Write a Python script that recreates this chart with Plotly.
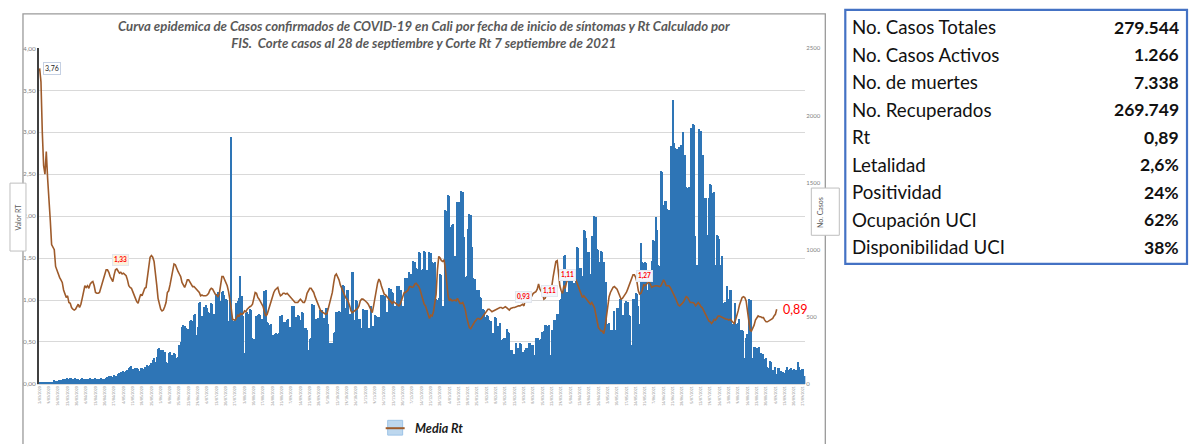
import plotly.graph_objects as go
import pandas as pd

W, H = 1195, 444

# ---- data -----------------------------------------------------------------
inicio = "2020-03-02"   # first day with symptom onset (FIS)

# daily confirmed cases by symptom-onset date (Cali)
casos = [
    5, 4, 6, 8, 7, 9, 10, 9, 11, 12,
    14, 25, 18, 22, 20, 25, 24, 28, 35, 38,
    33, 40, 36, 39, 42, 37, 35, 40, 33, 36,
    30, 38, 41, 35, 32, 28, 34, 38, 40, 36,
    33, 37, 41, 35, 30, 34, 39, 36, 33, 38,
    42, 48, 55, 60, 58, 52, 62, 57, 54, 72,
    80, 90, 78, 95, 85, 92, 105, 118, 125, 130,
    112, 100, 120, 115, 110, 95, 118, 120, 108, 122,
    98, 140, 130, 140, 150, 175, 190, 160, 195, 255,
    262, 250, 240, 248, 236, 160, 150, 225, 232, 215,
    210, 228, 220, 190, 200, 290, 310, 420, 435, 428,
    415, 410, 405, 465, 475, 470, 510, 515, 360, 420,
    600, 610, 505, 495, 570, 585, 560, 530, 525, 600,
    590, 520, 510, 670, 680, 665, 615, 680, 690, 660,
    630, 625, 470, 650, 1840, 480, 470, 475, 600, 612,
    640, 800, 655, 505, 230, 525, 535, 520, 555, 550,
    340, 335, 300, 505, 510, 515, 512, 485, 300, 690,
    695, 460, 450, 440, 445, 360, 365, 370, 375, 372,
    380, 505, 510, 340, 460, 462, 474, 478, 425, 420,
    575, 580, 495, 498, 508, 505, 474, 530, 528, 411,
    415, 400, 250, 335, 340, 590, 588, 484, 480, 486,
    470, 547, 545, 490, 488, 562, 560, 445, 300, 302,
    305, 380, 385, 535, 530, 540, 536, 728, 733, 730,
    562, 699, 700, 518, 520, 833, 830, 474, 620, 618,
    484, 480, 411, 555, 550, 548, 552, 411, 415, 577,
    425, 428, 508, 505, 500, 498, 264, 662, 660, 655,
    650, 530, 532, 709, 705, 679, 675, 577, 580, 728,
    725, 699, 695, 577, 575, 789, 785, 450, 835, 820,
    810, 911, 905, 860, 855, 977, 975, 850, 855, 985,
    980, 850, 848, 977, 970, 904, 900, 906, 630, 625,
    635, 814, 810, 577, 575, 1290, 1285, 1407, 1400, 1168,
    1185, 1192, 953, 577, 1350, 1355, 1345, 1432, 1430, 1094,
    796, 800, 1149, 1261, 1255, 1020, 786, 780, 655, 699,
    695, 643, 640, 553, 550, 496, 508, 505, 471, 470,
    371, 375, 496, 490, 430, 428, 455, 327, 335, 340,
    338, 406, 381, 380, 252, 250, 215, 218, 300, 269,
    265, 300, 298, 235, 238, 252, 264, 266, 300, 302,
    288, 285, 215, 340, 342, 338, 327, 330, 386, 390,
    435, 438, 432, 436, 215, 399, 400, 477, 475, 520,
    522, 625, 628, 679, 953, 960, 679, 680, 826, 855,
    850, 752, 750, 855, 1016, 1010, 860, 858, 801, 1143,
    1140, 1082, 977, 980, 814, 1100, 1095, 1246, 1240, 1000,
    995, 904, 985, 980, 904, 760, 755, 445, 450, 399,
    400, 250, 540, 400, 562, 560, 630, 628, 508, 510,
    600, 614, 610, 508, 505, 288, 630, 628, 672, 670,
    577, 445, 1046, 904, 900, 906, 902, 699, 816, 812,
    914, 1070, 1065, 1241, 1143, 880, 875, 1583, 1580, 1327,
    1363, 1360, 1300, 1290, 953, 1767, 2109, 1790, 1755, 1750,
    1070, 1760, 1779, 1770, 1871, 1700, 1461, 1455, 1465, 1460,
    1901, 1937, 1930, 1100, 880, 885, 1894, 1880, 1706, 1700,
    1381, 1380, 1107, 1381, 1486, 1480, 1420, 1425, 880, 1107,
    1100, 1080, 880, 953, 600, 610, 590, 728, 630, 699,
    695, 445, 440, 600, 445, 450, 484, 399, 400, 395,
    191, 340, 371, 630, 625, 620, 191, 276, 270, 265,
    178, 276, 230, 147, 220, 185, 190, 125, 118, 165,
    160, 103, 95, 125, 68, 117, 115, 95, 80, 85,
    82, 100, 125, 100, 110, 120, 100, 110, 98, 105,
    161, 125, 102, 108, 110, 60,
]

# mean Rt by symptom-onset date (cut-off 7 Sep 2021)
rt = [
    3.76, 3.60, 3.00, 2.60, 2.50, 2.77, 2.45, 2.25, 1.95, 1.66,
    1.62, 1.60, 1.40, 1.35, 1.30, 1.27, 1.24, 1.21, 1.12, 1.06,
    1.03, 1.05, 0.97, 0.96, 0.91, 0.89, 0.88, 0.89, 0.92, 0.95,
    0.91, 0.95, 1.02, 1.12, 1.17, 1.15, 1.17, 1.14, 1.19, 1.21,
    1.22, 1.17, 1.09, 1.08, 1.08, 1.09, 1.15, 1.20, 1.26, 1.32,
    1.36, 1.36, 1.33, 1.28, 1.25, 1.22, 1.30, 1.36, 1.37, 1.35,
    1.32, 1.33, 1.31, 1.32, 1.30, 1.29, 1.24, 1.17, 1.15, 1.14,
    1.10, 1.05, 1.02, 0.98, 0.96, 1.02, 1.07, 1.05, 1.10, 1.14,
    1.15, 1.28, 1.42, 1.51, 1.53, 1.51, 1.46, 1.35, 1.18, 1.02,
    0.93, 0.89, 0.87, 0.88, 0.92, 0.97, 1.09, 1.11, 1.18, 1.26,
    1.37, 1.43, 1.42, 1.37, 1.34, 1.31, 1.28, 1.21, 1.17, 1.15,
    1.19, 1.24, 1.24, 1.21, 1.18, 1.16, 1.16, 1.14, 1.12, 1.11,
    1.09, 1.05, 1.06, 1.05, 1.05, 1.05, 1.06, 1.08, 1.12, 1.14,
    1.13, 1.09, 1.07, 1.06, 1.04, 1.07, 1.20, 1.28, 1.28, 1.24,
    1.20, 1.17, 1.10, 1.02, 0.90, 0.77, 0.76, 0.76, 0.79, 0.82,
    0.81, 0.84, 0.83, 0.84, 0.87, 0.86, 0.89, 0.91, 0.92, 0.93,
    0.95, 1.02, 1.09, 1.08, 1.03, 1.01, 0.98, 0.96, 0.92, 0.86,
    0.81, 0.83, 0.88, 0.93, 0.98, 1.05, 1.09, 1.12, 1.14, 1.15,
    1.09, 1.05, 1.06, 1.08, 1.08, 1.07, 1.08, 1.06, 1.04, 1.03,
    1.01, 0.98, 0.97, 0.97, 0.97, 0.99, 1.01, 0.99, 0.97, 0.97,
    1.01, 1.08, 1.12, 1.14, 1.14, 1.12, 1.09, 1.04, 1.00, 0.97,
    0.91, 0.88, 0.86, 0.85, 0.84, 0.83, 0.84, 0.90, 0.95, 1.02,
    1.09, 1.20, 1.29, 1.31, 1.28, 1.24, 1.18, 1.14, 1.11, 1.06,
    1.03, 1.01, 0.98, 0.93, 0.87, 0.85, 0.86, 0.87, 0.88, 0.90,
    0.93, 0.99, 1.01, 1.01, 1.00, 0.99, 0.97, 0.95, 0.91, 0.89,
    0.85, 0.93, 1.04, 1.13, 1.20, 1.25, 1.22, 1.16, 1.12, 1.07,
    1.06, 1.04, 1.02, 1.00, 0.97, 0.96, 0.98, 0.97, 0.96, 0.94,
    0.93, 0.95, 0.99, 1.04, 1.09, 1.09, 1.10, 1.12, 1.16, 1.16,
    1.15, 1.16, 1.19, 1.20, 1.18, 1.16, 1.12, 1.05, 0.99, 0.95,
    0.93, 0.88, 0.81, 0.78, 0.82, 0.81, 0.86, 0.95, 1.07, 1.36,
    1.52, 1.50, 1.47, 1.46, 1.48, 1.36, 1.17, 1.05, 0.99, 1.01,
    0.99, 1.00, 1.00, 0.99, 1.02, 0.99, 0.96, 0.96, 0.97, 0.93,
    0.88, 0.79, 0.74, 0.67, 0.66, 0.69, 0.72, 0.74, 0.76, 0.78,
    0.78, 0.77, 0.78, 0.80, 0.83, 0.85, 0.87, 0.89, 0.89, 0.87,
    0.86, 0.87, 0.88, 0.89, 0.89, 0.90, 0.91, 0.91, 0.90, 0.91,
    0.92, 0.91, 0.90, 0.88, 0.90, 0.91, 0.91, 0.91, 0.92, 0.93,
    0.93, 0.93, 0.94, 0.95, 0.93, 1.00, 1.02, 1.02, 1.04, 1.07,
    1.05, 1.08, 1.09, 1.10, 1.13, 1.19, 1.13, 1.11, 1.08, 1.01,
    1.02, 1.07, 1.09, 1.11, 1.16, 1.17, 1.28, 1.38, 1.46, 1.47,
    1.28, 1.17, 1.11, 1.08, 1.17, 1.14, 1.21, 1.25, 1.28, 1.32,
    1.35, 1.30, 1.25, 1.24, 1.20, 1.16, 1.11, 1.06, 1.03, 1.05,
    1.03, 1.02, 1.00, 0.98, 0.95, 0.97, 0.94, 0.91, 0.83, 0.74,
    0.67, 0.65, 0.63, 0.63, 0.60, 0.68, 0.81, 0.95, 1.04, 1.09,
    1.13, 1.15, 1.16, 1.15, 1.13, 1.09, 1.04, 1.01, 1.02, 1.04,
    1.06, 1.09, 1.13, 1.17, 1.22, 1.27, 1.30, 1.30, 1.27, 1.21,
    1.11, 1.07, 1.08, 1.12, 1.18, 1.17, 1.19, 1.21, 1.22, 1.19,
    1.15, 1.16, 1.17, 1.17, 1.17, 1.16, 1.16, 1.17, 1.21, 1.24,
    1.21, 1.17, 1.17, 1.17, 1.15, 1.12, 1.08, 1.05, 1.02, 0.98,
    0.94, 0.93, 0.94, 0.96, 0.98, 1.02, 1.04, 1.03, 0.99, 0.97,
    0.97, 0.97, 0.96, 0.93, 0.95, 0.97, 0.95, 0.92, 0.91, 0.88,
    0.85, 0.82, 0.79, 0.75, 0.74, 0.72, 0.74, 0.77, 0.76, 0.78,
    0.81, 0.81, 0.80, 0.79, 0.79, 0.77, 0.77, 0.77, 0.76, 0.77,
    0.75, 0.74, 0.72, 0.76, 0.81, 0.87, 0.94, 1.00, 1.03, 1.04,
    1.03, 0.99, 0.87, 0.76, 0.64, 0.63, 0.66, 0.70, 0.76, 0.79,
    0.81, 0.80, 0.80, 0.79, 0.79, 0.76, 0.74, 0.74, 0.75, 0.76,
    0.76, 0.78, 0.81, 0.83, 0.89,
]

# days whose Rt value is written on the curve
dias_etiqueta = [0, 61, 364, 383, 392, 448, 554]

# summary table
indicadores = ["No. Casos Totales", "No. Casos Activos", "No. de muertes",
               "No. Recuperados", "Rt", "Letalidad", "Positividad",
               "Ocupación UCI", "Disponibilidad UCI"]
valores = ["279.544", "1.266", "7.338", "269.749", "0,89", "2,6%", "24%",
           "62%", "38%"]

titulo = ("Curva epidemica de Casos confirmados de COVID-19 en Cali por fecha de "
          "inicio de síntomas y Rt Calculado por<br>FIS.  Corte casos al 28 de "
          "septiembre y Corte Rt 7 septiembre de 2021")

# ---- helpers (pixel -> paper coordinates) ----------------------------------
def px(x):
    return x / W


def py(y):
    return 1 - y / H


fechas = pd.date_range(inicio, periods=len(casos), freq="D")
fechas_rt = fechas[:len(rt)]

FONT = "Lato, 'Open Sans', sans-serif"
GRIS = "#7f7f7f"
AZUL = "#2E75B6"
CAFE = "#9E5B2B"

fig = go.Figure()

fig.add_trace(go.Bar(
    x=fechas, y=casos, yaxis="y", name="No. Casos",
    marker=dict(color=AZUL, line=dict(width=0)), showlegend=False,
))
fig.add_trace(go.Scatter(
    x=fechas_rt, y=rt, yaxis="y2", name="Media Rt", mode="lines",
    line=dict(color=CAFE, width=1.6), showlegend=False,
))

x0_plot, x1_plot = 38, 805
y_top, y_bot = 45, 386

fig.update_layout(
    width=W, height=H, autosize=False,
    margin=dict(l=0, r=0, t=0, b=0),
    paper_bgcolor="white", plot_bgcolor="white",
    separators=",.",
    bargap=0,
    font=dict(family=FONT, color=GRIS),
    xaxis=dict(
        domain=[px(x0_plot), px(x1_plot)],
        type="date",
        range=[fechas[0] - pd.Timedelta(hours=12), fechas[-1] + pd.Timedelta(hours=12)],
        tick0=inicio, dtick=7 * 86400000,
        tickformat="%-d/%m/%Y", tickangle=-90,
        tickfont=dict(size=3.5, color="#8c8c8c"),
        showgrid=False, zeroline=False,
        showline=True, linecolor="#d9d9d9", linewidth=1,
        ticks="",
    ),
    yaxis=dict(
        domain=[py(y_bot), py(y_top)],
        side="right", range=[0, 2500], dtick=500, tickformat="d",
        showgrid=False, zeroline=False, showline=False, ticks="",
        tickfont=dict(size=6, color=GRIS),
    ),
    yaxis2=dict(
        overlaying="y", side="left", range=[0, 4], dtick=0.5,
        tickformat=".2f",
        showgrid=True, gridcolor="#d9d9d9", gridwidth=1,
        zeroline=False,
        showline=True, linecolor="#404040", linewidth=1.5,
        ticks="", tickfont=dict(size=6.5, color=GRIS),
    ),
)

shapes = []
annotations = []


def texto_papel(x, y, text, size, color, xanchor="center", angle=0, align="center"):
    annotations.append(dict(xref="paper", yref="paper", x=px(x), y=py(y),
                            xanchor=xanchor, yanchor="middle", text=text,
                            textangle=angle, showarrow=False, align=align,
                            font=dict(size=size, color=color, family=FONT)))


# outer chart frame
shapes.append(dict(type="rect", xref="paper", yref="paper",
                   x0=px(22), x1=px(825), y0=py(10), y1=py(470),
                   line=dict(color="#9a9a9a", width=1.3), fillcolor="rgba(0,0,0,0)"))

# axis title boxes
shapes.append(dict(type="rect", xref="paper", yref="paper",
                   x0=px(9), x1=px(25), y0=py(182), y1=py(251),
                   line=dict(color="#bfbfbf", width=1), fillcolor="white"))
texto_papel(17, 216, "Valor RT", 7, "#595959", angle=-90)
shapes.append(dict(type="rect", xref="paper", yref="paper",
                   x0=px(811), x1=px(839), y0=py(187), y1=py(235),
                   line=dict(color="#bfbfbf", width=1), fillcolor="white"))
texto_papel(819, 212, "No. Casos", 7, "#595959", angle=-90)

# title
texto_papel(423, 31, "<b><i>" + titulo + "</i></b>", 13.2, "#595959")

# Rt value labels on the curve
desplaz = {0: (12, 0), 61: (0, 12), 364: (0, 9), 383: (0, 0),
           392: (6, 16), 448: (9, 1), 554: (19, 0)}
for d in dias_etiqueta:
    texto = f"{rt[d]:.2f}".replace(".", ",")
    dx, dy = desplaz[d]
    base = dict(x=fechas_rt[d], y=rt[d], xref="x", yref="y2", showarrow=False,
                xshift=dx, yshift=dy, xanchor="center", yanchor="middle")
    if d == 0:
        base.update(text=texto, bgcolor="white", bordercolor="#c5d0e3", borderwidth=1,
                    borderpad=1, font=dict(size=7, color="#262626", family=FONT))
    elif d == dias_etiqueta[-1]:
        base.update(text=texto, font=dict(size=12.5, color="#ff0000", family=FONT))
    else:
        fondo = "#fdf1dc" if d == 61 else "#f2f5fb"
        base.update(text="<b>" + texto + "</b>", bgcolor=fondo, bordercolor="#e3e7ef",
                    borderwidth=1, borderpad=1,
                    font=dict(size=6.5, color="#ff0000", family=FONT))
    annotations.append(base)

# legend
shapes.append(dict(type="rect", xref="paper", yref="paper",
                   x0=px(387), x1=px(402), y0=py(423), y1=py(438),
                   line=dict(color="#9dc3e6", width=1), fillcolor="#bdd7ee"))
shapes.append(dict(type="line", xref="paper", yref="paper",
                   x0=px(385), x1=px(404), y0=py(431), y1=py(431),
                   line=dict(color=CAFE, width=2)))
texto_papel(412, 431, "<b><i>Media Rt</i></b>", 12.5, "#1a1a1a", xanchor="left")

# summary table
shapes.append(dict(type="rect", xref="paper", yref="paper",
                   x0=px(845), x1=px(1187), y0=py(6), y1=py(264),
                   line=dict(color="#4472C4", width=2.2), fillcolor="rgba(0,0,0,0)"))
for i, (lab, val) in enumerate(zip(indicadores, valores)):
    yc = 23.8 + 27.9 * i
    texto_papel(850, yc, lab, 18.7, "#111111", xanchor="left")
    texto_papel(1181, yc, "<b>" + val + "</b>", 17.5, "#111111", xanchor="right")

fig.update_layout(shapes=shapes, annotations=annotations)

fig.write_html("out.html")
